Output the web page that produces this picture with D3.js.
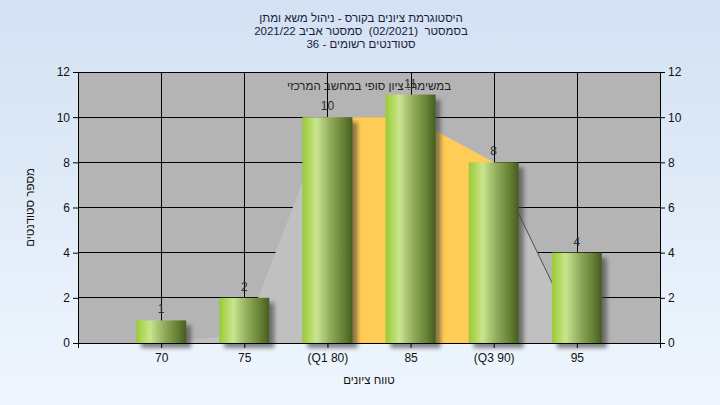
<!DOCTYPE html>
<html><head><meta charset="utf-8">
<script src="https://cdn.jsdelivr.net/npm/d3@7"></script>
<style>body{margin:0;padding:0;overflow:hidden}svg{display:block}text{white-space:pre}</style>
</head><body>
<script>
const categories = ["70","75","(Q1 80)","85","(Q3 90)","95"];
const counts = [1,2,10,11,8,4];
const curveValues = [0,0.4,10,10,8,0.4];
const quartileValues = [null,null,10,10,8,null];
const yTicks = [0,2,4,6,8,10,12];
const titleLines = ["היסטוגרמת ציונים בקורס - ניהול משא ומתן","בסמסטר  (02/2021)  סמסטר אביב 2021/22","סטודנטים רשומים - 36"];
const subtitle = "במשימה: ציון סופי במחשב המרכזי";
const yLabel = "מספר סטודנטים";
const xLabel = "טווח ציונים";

const W=720,H=405, L=78,R=660,T=72,B=343;
const font = "'Liberation Sans', Arial, sans-serif";
const svg = d3.select("body").append("svg").attr("width",W).attr("height",H);
const defs = svg.append("defs");
const bg = defs.append("linearGradient").attr("id","bg").attr("x1",0).attr("y1",0).attr("x2",0).attr("y2",1);
bg.append("stop").attr("offset","0%").attr("stop-color","#d3e1f3");
bg.append("stop").attr("offset","100%").attr("stop-color","#eff6fe");
const bar = defs.append("linearGradient").attr("id","bar").attr("x1",0).attr("y1",0).attr("x2",1).attr("y2",0);
[["0%","#98c83a"],["8%","#a8d34a"],["28%","#c9e590"],["55%","#92ad5c"],["80%","#6a8438"],["100%","#465e1e"]].forEach(s=>bar.append("stop").attr("offset",s[0]).attr("stop-color",s[1]));
const f = defs.append("filter").attr("id","sh").attr("x","-20%").attr("y","-20%").attr("width","160%").attr("height","160%");
f.append("feGaussianBlur").attr("stdDeviation",2);

svg.append("rect").attr("width",W).attr("height",H).attr("fill","url(#bg)");

const x = d3.scaleLinear().domain([0,categories.length+1]).range([L,R]);
const y = d3.scaleLinear().domain([0,12]).range([B,T]);
const bw = 50;

svg.append("rect").attr("x",L).attr("y",T).attr("width",R-L).attr("height",B-T).attr("fill","#b4b4b4");
// gridlines
svg.append("g").selectAll("line").data(yTicks).join("line")
  .attr("x1",L).attr("x2",R).attr("y1",d=>y(d)).attr("y2",d=>y(d)).attr("stroke","#000").attr("shape-rendering","crispEdges");
svg.append("g").selectAll("line").data(categories).join("line")
  .attr("x1",(d,i)=>Math.round(x(i+1))+0.5).attr("x2",(d,i)=>Math.round(x(i+1))+0.5).attr("y1",T).attr("y2",B).attr("stroke","#000");

// background areas
const area = d3.area().x((d,i)=>x(i+1)).y0(y(0)).y1(d=>y(d));
svg.append("path").attr("d",area(curveValues)).attr("fill","#c0c0c0");
const qa = d3.area().defined(d=>d!==null).x((d,i)=>x(i+1)).y0(y(0)).y1(d=>y(d));
svg.append("path").attr("d",qa(quartileValues)).attr("fill","#ffcc55");
const seg = curveValues.map((d,i)=>i>=4?d:null);
svg.append("path").attr("d",d3.line().defined(d=>d!==null).x((d,i)=>x(i+1)).y(d=>y(d))(seg))
  .attr("fill","none").attr("stroke","#505050").attr("stroke-width",1);

// bars
const gb = svg.append("g");
counts.forEach((v,i)=>{
  const cx = x(i+1);
  gb.append("rect").attr("x",cx-bw/2+5).attr("y",y(v)+5).attr("width",bw).attr("height",y(0)-y(v)).attr("fill","#3a3a3a").attr("opacity",0.6).attr("filter","url(#sh)");
});
counts.forEach((v,i)=>{
  const cx = x(i+1);
  gb.append("rect").attr("x",cx-bw/2).attr("y",y(v)).attr("width",bw).attr("height",y(0)-y(v)).attr("fill","url(#bar)");
});
// data labels
svg.append("g").selectAll("text").data(counts).join("text")
  .attr("x",(d,i)=>x(i+1)).attr("y",d=>y(d)-7).attr("text-anchor","middle")
  .attr("font-family",font).attr("font-size",12).attr("fill","#303030").text(d=>d);

// axes
const ax = (sel)=>sel.selectAll("text").attr("font-family",font).attr("font-size",12).attr("fill","#111");
svg.append("g").attr("transform",`translate(${L},0)`).call(d3.axisLeft(y).tickValues(yTicks).tickSize(5).tickSizeOuter(0)).call(ax).call(g=>g.select(".domain").attr("stroke","#000"));
svg.append("g").attr("transform",`translate(${R},0)`).call(d3.axisRight(y).tickValues(yTicks).tickSize(5).tickSizeOuter(0)).call(ax).call(g=>g.select(".domain").attr("stroke","#000"));
const xa = d3.axisBottom(x).tickValues(d3.range(0,categories.length+2)).tickSize(5).tickSizeOuter(0)
  .tickFormat(d=> (d>=1 && d<=categories.length) ? categories[d-1] : "");
svg.append("g").attr("transform",`translate(0,${B})`).call(xa).call(ax).call(g=>g.selectAll("text").attr("dy","0.9em")).call(g=>g.select(".domain").attr("stroke","#000"));

// titles
svg.append("g").selectAll("text").data(titleLines).join("text")
  .attr("x",361).attr("y",(d,i)=>22+i*13).attr("text-anchor","middle").attr("direction","rtl")
  .attr("font-family",font).attr("font-size",11.5).attr("fill","#1a1a40").text(d=>d);
svg.append("text").attr("x",(L+R)/2).attr("y",90).attr("text-anchor","middle").attr("direction","rtl")
  .attr("font-family",font).attr("font-size",11.5).attr("fill","#222").text(subtitle);
svg.append("text").attr("transform",`translate(34,${(T+B)/2}) rotate(-90)`).attr("text-anchor","middle").attr("direction","rtl")
  .attr("font-family",font).attr("font-size",11.5).attr("fill","#111").text(yLabel);
svg.append("text").attr("x",(L+R)/2).attr("y",384).attr("text-anchor","middle").attr("direction","rtl")
  .attr("font-family",font).attr("font-size",11.5).attr("fill","#111").text(xLabel);
</script>
</body></html>
